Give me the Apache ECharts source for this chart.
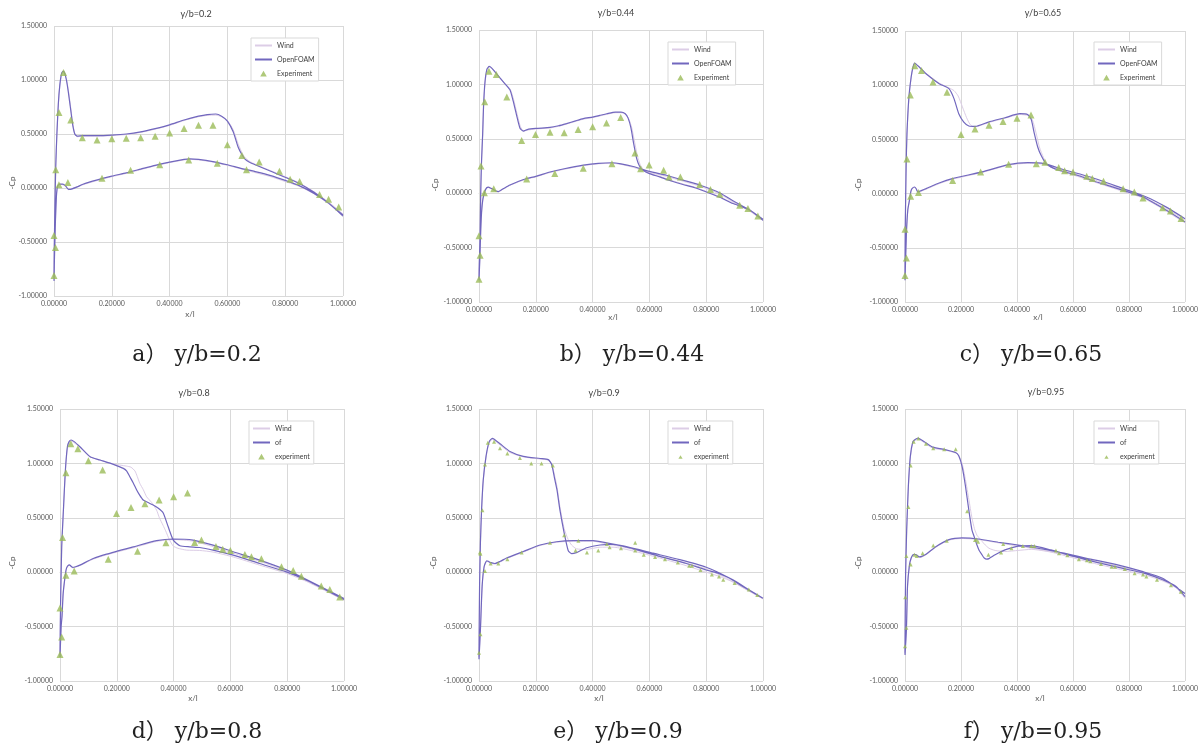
<!DOCTYPE html>
<html>
<head>
<meta charset="utf-8">
<script src="https://cdn.jsdelivr.net/npm/echarts@6/dist/echarts.min.js"></script>
<style>
  html, body { margin: 0; padding: 0; background: #fff; }
  #chart { width: 1201px; height: 745px; }
</style>
</head>
<body>
<div id="chart"></div>
<script>
// ---- data: [x/l, -Cp] pairs ----
// a) y/b=0.2
const windA = [[1.0,-0.24],[0.95,-0.13],[0.9,-0.035],[0.85,0.045],[0.8,0.105],[0.75,0.16],[0.7,0.215],[0.675,0.25],[0.66,0.285],[0.65,0.33],[0.637,0.41],[0.62,0.54],[0.6,0.625],[0.58,0.66],[0.56,0.675],[0.53,0.672],[0.5,0.66],[0.45,0.625],[0.4,0.58],[0.35,0.545],[0.3,0.515],[0.25,0.495],[0.2,0.485],[0.15,0.48],[0.1,0.48],[0.08,0.475],[0.072,0.5],[0.065,0.6],[0.058,0.74],[0.05,0.9],[0.043,1.01],[0.036,1.07],[0.031,1.075],[0.026,1.05],[0.02,0.94],[0.015,0.77],[0.01,0.5],[0.006,0.2],[0.003,-0.2],[0.001,-0.55],[0.0,-0.84],[0.002,-0.6],[0.005,-0.3],[0.009,-0.05],[0.013,0.02],[0.02,0.035],[0.03,0.03],[0.04,0.015],[0.05,-0.015],[0.06,-0.01],[0.08,0.01],[0.1,0.03],[0.15,0.07],[0.2,0.105],[0.25,0.135],[0.3,0.17],[0.35,0.205],[0.4,0.235],[0.45,0.26],[0.47,0.265],[0.5,0.26],[0.55,0.24],[0.6,0.21],[0.65,0.175],[0.7,0.14],[0.75,0.105],[0.8,0.06],[0.85,0.015],[0.9,-0.055],[0.95,-0.145],[1.0,-0.26]];
const foamA = [[1.0,-0.25],[0.95,-0.14],[0.9,-0.04],[0.85,0.04],[0.8,0.1],[0.75,0.155],[0.7,0.21],[0.675,0.24],[0.66,0.27],[0.65,0.31],[0.637,0.38],[0.62,0.52],[0.6,0.62],[0.58,0.665],[0.56,0.685],[0.53,0.68],[0.5,0.665],[0.45,0.63],[0.4,0.585],[0.35,0.55],[0.3,0.52],[0.25,0.5],[0.2,0.49],[0.15,0.485],[0.1,0.485],[0.08,0.48],[0.072,0.5],[0.065,0.58],[0.058,0.72],[0.05,0.88],[0.043,1.0],[0.036,1.07],[0.031,1.08],[0.026,1.06],[0.02,0.95],[0.015,0.78],[0.01,0.5],[0.006,0.2],[0.003,-0.2],[0.001,-0.55],[0.0,-0.86],[0.002,-0.6],[0.005,-0.3],[0.009,-0.05],[0.013,0.02],[0.02,0.035],[0.03,0.035],[0.04,0.02],[0.05,-0.012],[0.06,-0.01],[0.08,0.01],[0.1,0.035],[0.15,0.075],[0.2,0.11],[0.25,0.14],[0.3,0.175],[0.35,0.21],[0.4,0.24],[0.45,0.265],[0.47,0.27],[0.5,0.265],[0.55,0.245],[0.6,0.215],[0.65,0.18],[0.7,0.15],[0.75,0.115],[0.8,0.07],[0.85,0.02],[0.9,-0.05],[0.95,-0.14],[1.0,-0.26]];
const expA = [[0.033,1.07],[0.017,0.70],[0.058,0.63],[0.006,0.17],[0.017,0.03],[0.048,0.05],[0.0,-0.44],[0.005,-0.55],[0.0,-0.81],[0.098,0.465],[0.149,0.445],[0.2,0.455],[0.25,0.46],[0.3,0.465],[0.35,0.48],[0.4,0.51],[0.45,0.55],[0.5,0.58],[0.55,0.58],[0.6,0.40],[0.65,0.30],[0.71,0.24],[0.78,0.155],[0.817,0.08],[0.85,0.06],[0.919,-0.06],[0.95,-0.105],[0.985,-0.175],[0.166,0.09],[0.265,0.165],[0.366,0.215],[0.466,0.26],[0.565,0.23],[0.666,0.17]];

// b) y/b=0.44
const windB = [[1.0,-0.245],[0.95,-0.145],[0.894,-0.09],[0.85,-0.035],[0.812,0.005],[0.76,0.055],[0.718,0.085],[0.68,0.115],[0.636,0.155],[0.6,0.185],[0.58,0.215],[0.568,0.26],[0.558,0.34],[0.548,0.47],[0.538,0.6],[0.528,0.68],[0.517,0.725],[0.5,0.74],[0.48,0.74],[0.45,0.725],[0.425,0.71],[0.4,0.695],[0.367,0.68],[0.34,0.66],[0.308,0.635],[0.28,0.615],[0.25,0.6],[0.2,0.59],[0.17,0.58],[0.158,0.57],[0.146,0.61],[0.134,0.73],[0.122,0.86],[0.11,0.955],[0.09,1.01],[0.074,1.055],[0.055,1.115],[0.045,1.145],[0.036,1.16],[0.028,1.135],[0.021,1.01],[0.016,0.79],[0.013,0.54],[0.009,0.29],[0.006,0.0],[0.004,-0.36],[0.001,-0.64],[0.0,-0.78],[0.003,-0.59],[0.006,-0.34],[0.009,-0.17],[0.014,-0.045],[0.021,0.02],[0.027,0.048],[0.033,0.052],[0.042,0.042],[0.05,0.032],[0.06,0.017],[0.068,0.012],[0.085,0.037],[0.109,0.072],[0.14,0.105],[0.168,0.13],[0.2,0.15],[0.25,0.19],[0.3,0.22],[0.367,0.253],[0.42,0.27],[0.468,0.275],[0.5,0.265],[0.543,0.238],[0.6,0.19],[0.66,0.155],[0.718,0.11],[0.777,0.065],[0.85,-0.01],[0.894,-0.08],[0.95,-0.16],[1.0,-0.25]];
const foamB = [[1.0,-0.25],[0.95,-0.15],[0.894,-0.095],[0.85,-0.04],[0.812,0.0],[0.76,0.05],[0.718,0.08],[0.68,0.11],[0.636,0.15],[0.6,0.18],[0.578,0.21],[0.565,0.25],[0.555,0.32],[0.545,0.45],[0.535,0.6],[0.525,0.69],[0.515,0.73],[0.5,0.745],[0.48,0.745],[0.45,0.73],[0.425,0.715],[0.4,0.7],[0.367,0.685],[0.34,0.665],[0.308,0.64],[0.28,0.62],[0.25,0.605],[0.2,0.595],[0.17,0.585],[0.156,0.57],[0.144,0.6],[0.132,0.72],[0.12,0.85],[0.109,0.95],[0.09,1.01],[0.074,1.06],[0.055,1.12],[0.045,1.15],[0.036,1.165],[0.028,1.14],[0.021,1.02],[0.016,0.8],[0.013,0.55],[0.009,0.3],[0.006,0.0],[0.004,-0.37],[0.001,-0.65],[0.0,-0.8],[0.003,-0.6],[0.006,-0.35],[0.009,-0.18],[0.014,-0.05],[0.021,0.02],[0.027,0.05],[0.033,0.055],[0.042,0.045],[0.05,0.035],[0.06,0.02],[0.068,0.015],[0.085,0.04],[0.109,0.075],[0.14,0.11],[0.168,0.135],[0.2,0.155],[0.25,0.195],[0.3,0.225],[0.367,0.258],[0.42,0.275],[0.468,0.28],[0.5,0.27],[0.543,0.245],[0.6,0.2],[0.66,0.165],[0.718,0.12],[0.777,0.075],[0.85,0.0],[0.894,-0.07],[0.95,-0.15],[1.0,-0.24]];
const expB = [[0.035,1.12],[0.061,1.09],[0.02,0.84],[0.098,0.885],[0.007,0.25],[0.019,0.005],[0.052,0.04],[0.0,-0.39],[0.004,-0.57],[0.0,-0.79],[0.15,0.485],[0.199,0.54],[0.25,0.56],[0.3,0.555],[0.349,0.585],[0.4,0.61],[0.449,0.645],[0.499,0.695],[0.549,0.37],[0.569,0.225],[0.599,0.26],[0.65,0.21],[0.669,0.15],[0.709,0.15],[0.777,0.08],[0.815,0.035],[0.848,-0.01],[0.918,-0.11],[0.947,-0.14],[0.982,-0.21],[0.168,0.13],[0.267,0.18],[0.367,0.23],[0.468,0.27]];

// c) y/b=0.65
const windC = [[1.0,-0.27],[0.95,-0.19],[0.92,-0.14],[0.85,-0.04],[0.779,0.02],[0.685,0.1],[0.615,0.16],[0.545,0.215],[0.51,0.26],[0.495,0.33],[0.48,0.43],[0.468,0.56],[0.455,0.68],[0.44,0.72],[0.41,0.73],[0.357,0.695],[0.298,0.655],[0.26,0.62],[0.245,0.615],[0.232,0.64],[0.22,0.7],[0.205,0.8],[0.19,0.9],[0.175,0.95],[0.157,0.975],[0.122,1.02],[0.075,1.11],[0.05,1.17],[0.034,1.2],[0.028,1.16],[0.022,1.07],[0.014,0.88],[0.007,0.55],[0.004,0.24],[0.001,-0.3],[0.0,-0.78],[0.005,-0.36],[0.01,-0.15],[0.016,-0.06],[0.021,0.02],[0.025,0.045],[0.034,0.058],[0.04,0.04],[0.046,0.012],[0.06,0.025],[0.075,0.04],[0.122,0.092],[0.169,0.132],[0.275,0.195],[0.369,0.262],[0.439,0.28],[0.498,0.27],[0.568,0.21],[0.662,0.14],[0.779,0.035],[0.862,-0.045],[0.93,-0.135],[1.0,-0.245]];
const foamC = [[1.0,-0.262],[0.95,-0.18],[0.92,-0.133],[0.85,-0.031],[0.779,0.03],[0.685,0.107],[0.615,0.169],[0.545,0.22],[0.504,0.276],[0.486,0.353],[0.474,0.43],[0.462,0.553],[0.451,0.682],[0.439,0.728],[0.41,0.737],[0.357,0.7],[0.298,0.66],[0.251,0.62],[0.228,0.624],[0.21,0.66],[0.192,0.737],[0.175,0.876],[0.157,0.968],[0.122,1.014],[0.075,1.106],[0.05,1.17],[0.034,1.205],[0.028,1.16],[0.022,1.076],[0.014,0.891],[0.007,0.553],[0.004,0.245],[0.001,-0.31],[0.0,-0.8],[0.005,-0.37],[0.01,-0.15],[0.016,-0.06],[0.021,0.02],[0.025,0.046],[0.034,0.061],[0.04,0.045],[0.046,0.015],[0.06,0.03],[0.075,0.046],[0.122,0.098],[0.169,0.138],[0.275,0.2],[0.369,0.267],[0.439,0.285],[0.498,0.276],[0.568,0.22],[0.662,0.153],[0.779,0.046],[0.862,-0.031],[0.93,-0.12],[1.0,-0.231]];
const expC = [[0.035,1.18],[0.059,1.135],[0.1,1.03],[0.15,0.935],[0.019,0.91],[0.007,0.32],[0.02,-0.025],[0.048,0.01],[0.0,-0.33],[0.005,-0.595],[0.0,-0.755],[0.2,0.545],[0.25,0.595],[0.3,0.63],[0.35,0.665],[0.4,0.695],[0.45,0.725],[0.17,0.12],[0.27,0.2],[0.37,0.27],[0.469,0.275],[0.5,0.29],[0.549,0.24],[0.57,0.21],[0.6,0.2],[0.649,0.16],[0.669,0.14],[0.709,0.115],[0.779,0.045],[0.819,0.015],[0.85,-0.04],[0.92,-0.13],[0.948,-0.16],[0.986,-0.23]];

// d) y/b=0.8
const windD = [[1.0,-0.26],[0.938,-0.175],[0.868,-0.085],[0.797,-0.01],[0.703,0.065],[0.61,0.14],[0.539,0.185],[0.492,0.2],[0.446,0.203],[0.415,0.22],[0.399,0.24],[0.385,0.3],[0.372,0.38],[0.363,0.43],[0.35,0.5],[0.34,0.571],[0.323,0.64],[0.305,0.693],[0.293,0.76],[0.281,0.816],[0.272,0.88],[0.264,0.93],[0.25,0.965],[0.234,0.975],[0.188,0.995],[0.141,1.03],[0.106,1.06],[0.07,1.15],[0.05,1.19],[0.039,1.205],[0.032,1.19],[0.026,1.14],[0.019,0.93],[0.012,0.56],[0.006,0.23],[0.002,-0.28],[0.0,-0.76],[0.004,-0.49],[0.007,-0.4],[0.011,-0.2],[0.015,-0.1],[0.02,0.0],[0.023,0.035],[0.028,0.057],[0.033,0.063],[0.039,0.05],[0.045,0.04],[0.055,0.047],[0.07,0.062],[0.117,0.12],[0.164,0.16],[0.258,0.225],[0.34,0.283],[0.399,0.3],[0.469,0.285],[0.539,0.235],[0.61,0.175],[0.703,0.1],[0.797,0.01],[0.868,-0.08],[0.938,-0.17],[1.0,-0.25]];
const foamD = [[1.0,-0.251],[0.938,-0.165],[0.868,-0.073],[0.797,0.003],[0.703,0.08],[0.61,0.157],[0.539,0.203],[0.492,0.227],[0.457,0.233],[0.422,0.243],[0.399,0.295],[0.381,0.417],[0.363,0.546],[0.345,0.59],[0.328,0.617],[0.31,0.64],[0.293,0.663],[0.28,0.71],[0.27,0.755],[0.258,0.82],[0.246,0.877],[0.235,0.93],[0.223,0.954],[0.188,0.991],[0.141,1.031],[0.106,1.061],[0.07,1.153],[0.05,1.2],[0.039,1.215],[0.032,1.2],[0.026,1.153],[0.019,0.939],[0.012,0.571],[0.006,0.233],[0.002,-0.288],[0.0,-0.78],[0.004,-0.5],[0.007,-0.41],[0.011,-0.2],[0.015,-0.1],[0.02,0.0],[0.023,0.037],[0.028,0.06],[0.033,0.068],[0.039,0.055],[0.045,0.043],[0.055,0.05],[0.07,0.065],[0.117,0.126],[0.164,0.166],[0.258,0.233],[0.34,0.29],[0.399,0.305],[0.469,0.295],[0.539,0.249],[0.61,0.188],[0.703,0.111],[0.797,0.021],[0.868,-0.067],[0.938,-0.16],[1.0,-0.242]];
const expD = [[0.038,1.18],[0.063,1.135],[0.1,1.025],[0.15,0.94],[0.021,0.915],[0.009,0.32],[0.021,-0.027],[0.05,0.01],[0.0,-0.33],[0.006,-0.595],[0.0,-0.757],[0.199,0.54],[0.25,0.595],[0.299,0.63],[0.349,0.663],[0.4,0.693],[0.449,0.727],[0.17,0.12],[0.273,0.193],[0.373,0.27],[0.474,0.273],[0.498,0.295],[0.549,0.236],[0.573,0.212],[0.6,0.2],[0.651,0.163],[0.674,0.141],[0.709,0.123],[0.78,0.049],[0.821,0.016],[0.85,-0.037],[0.92,-0.126],[0.95,-0.159],[0.985,-0.227]];

// e) y/b=0.9
const windE = [[1.0,-0.245],[0.953,-0.175],[0.894,-0.09],[0.848,-0.04],[0.8,0.0],[0.73,0.06],[0.637,0.13],[0.543,0.195],[0.472,0.23],[0.426,0.23],[0.379,0.21],[0.343,0.215],[0.326,0.25],[0.314,0.3],[0.3,0.4],[0.285,0.6],[0.275,0.78],[0.267,0.88],[0.256,0.99],[0.244,1.03],[0.215,1.04],[0.156,1.06],[0.109,1.1],[0.074,1.17],[0.047,1.22],[0.036,1.19],[0.025,1.06],[0.015,0.84],[0.009,0.56],[0.005,0.26],[0.002,-0.13],[0.0,-0.78],[0.005,-0.52],[0.011,-0.13],[0.018,0.05],[0.027,0.1],[0.033,0.095],[0.039,0.085],[0.056,0.075],[0.075,0.095],[0.097,0.125],[0.156,0.185],[0.215,0.245],[0.273,0.275],[0.332,0.285],[0.402,0.285],[0.449,0.26],[0.519,0.225],[0.613,0.16],[0.707,0.1],[0.8,0.03],[0.871,-0.055],[0.941,-0.16],[1.0,-0.245]];
const foamE = [[1.0,-0.24],[0.953,-0.165],[0.894,-0.07],[0.848,-0.015],[0.8,0.02],[0.73,0.08],[0.637,0.145],[0.543,0.215],[0.472,0.255],[0.426,0.25],[0.379,0.225],[0.343,0.18],[0.326,0.17],[0.314,0.2],[0.3,0.36],[0.285,0.57],[0.275,0.75],[0.267,0.85],[0.256,0.99],[0.244,1.035],[0.215,1.045],[0.156,1.065],[0.109,1.11],[0.074,1.18],[0.047,1.23],[0.036,1.2],[0.025,1.07],[0.015,0.85],[0.009,0.57],[0.005,0.27],[0.002,-0.13],[0.0,-0.8],[0.005,-0.53],[0.011,-0.13],[0.018,0.05],[0.027,0.105],[0.033,0.1],[0.039,0.09],[0.056,0.08],[0.075,0.1],[0.097,0.13],[0.156,0.19],[0.215,0.25],[0.273,0.28],[0.332,0.29],[0.402,0.29],[0.449,0.27],[0.519,0.235],[0.613,0.175],[0.707,0.115],[0.8,0.045],[0.871,-0.04],[0.941,-0.15],[1.0,-0.24]];
const expE = [[0.0,-0.74],[0.005,-0.57],[0.003,0.18],[0.005,0.17],[0.012,0.57],[0.021,0.99],[0.031,1.19],[0.053,1.2],[0.074,1.14],[0.1,1.09],[0.144,1.05],[0.184,1.0],[0.22,1.0],[0.26,0.98],[0.3,0.34],[0.34,0.2],[0.38,0.18],[0.42,0.2],[0.46,0.23],[0.5,0.22],[0.55,0.2],[0.58,0.16],[0.62,0.14],[0.655,0.12],[0.7,0.09],[0.74,0.06],[0.75,0.06],[0.78,0.02],[0.82,-0.02],[0.845,-0.04],[0.86,-0.07],[0.9,-0.1],[0.95,-0.16],[0.98,-0.21],[0.021,0.01],[0.041,0.08],[0.068,0.08],[0.1,0.12],[0.15,0.18],[0.25,0.27],[0.35,0.29],[0.45,0.26],[0.55,0.27]];

// f) y/b=0.95
const windF = [[1.0,-0.24],[0.967,-0.14],[0.92,-0.08],[0.862,-0.03],[0.779,0.02],[0.685,0.075],[0.603,0.13],[0.521,0.185],[0.451,0.21],[0.404,0.2],[0.357,0.19],[0.322,0.2],[0.3,0.22],[0.283,0.26],[0.27,0.3],[0.257,0.34],[0.248,0.4],[0.239,0.5],[0.228,0.67],[0.216,0.85],[0.204,1.0],[0.192,1.07],[0.181,1.095],[0.146,1.12],[0.099,1.14],[0.069,1.19],[0.046,1.225],[0.036,1.21],[0.028,1.19],[0.019,1.05],[0.012,0.78],[0.006,0.38],[0.002,-0.04],[0.0,-0.74],[0.005,-0.52],[0.009,-0.13],[0.016,0.065],[0.022,0.125],[0.028,0.155],[0.034,0.16],[0.04,0.155],[0.052,0.135],[0.06,0.14],[0.075,0.16],[0.11,0.23],[0.157,0.295],[0.204,0.31],[0.263,0.3],[0.333,0.27],[0.404,0.24],[0.474,0.21],[0.568,0.165],[0.662,0.11],[0.756,0.06],[0.85,-0.005],[0.92,-0.065],[1.0,-0.2]];
const foamF = [[1.0,-0.225],[0.967,-0.13],[0.92,-0.07],[0.862,-0.015],[0.779,0.035],[0.685,0.09],[0.603,0.145],[0.521,0.205],[0.451,0.245],[0.404,0.24],[0.357,0.205],[0.322,0.16],[0.3,0.125],[0.292,0.12],[0.283,0.13],[0.275,0.16],[0.265,0.2],[0.257,0.25],[0.248,0.32],[0.239,0.39],[0.228,0.57],[0.216,0.79],[0.204,0.97],[0.192,1.07],[0.181,1.1],[0.146,1.125],[0.099,1.15],[0.069,1.2],[0.046,1.233],[0.036,1.22],[0.028,1.2],[0.019,1.065],[0.012,0.79],[0.006,0.39],[0.002,-0.04],[0.0,-0.76],[0.005,-0.53],[0.009,-0.13],[0.016,0.07],[0.022,0.13],[0.028,0.16],[0.034,0.165],[0.04,0.16],[0.052,0.14],[0.06,0.145],[0.075,0.165],[0.11,0.235],[0.157,0.3],[0.204,0.315],[0.263,0.305],[0.333,0.275],[0.404,0.25],[0.474,0.22],[0.568,0.175],[0.662,0.12],[0.756,0.07],[0.85,0.005],[0.92,-0.055],[1.0,-0.195]];
const expF = [[0.0,-0.68],[0.005,-0.51],[0.001,-0.23],[0.005,0.15],[0.012,0.6],[0.02,0.98],[0.031,1.2],[0.048,1.23],[0.075,1.18],[0.101,1.14],[0.14,1.13],[0.181,1.13],[0.222,0.56],[0.255,0.3],[0.261,0.28],[0.298,0.16],[0.343,0.18],[0.38,0.22],[0.421,0.24],[0.451,0.24],[0.462,0.24],[0.351,0.26],[0.539,0.2],[0.55,0.175],[0.58,0.155],[0.621,0.12],[0.65,0.11],[0.662,0.1],[0.7,0.075],[0.738,0.05],[0.75,0.05],[0.785,0.03],[0.82,-0.01],[0.85,-0.02],[0.862,-0.04],[0.9,-0.07],[0.95,-0.12],[0.985,-0.18],[0.02,0.07],[0.034,0.16],[0.042,0.15],[0.063,0.175],[0.101,0.245],[0.149,0.29],[0.25,0.295]];

const panelTitles = ['y/b=0.2', 'y/b=0.44', 'y/b=0.65', 'y/b=0.8', 'y/b=0.9', 'y/b=0.95'];
const captions = ['a） y/b=0.2', 'b） y/b=0.44', 'c） y/b=0.65', 'd） y/b=0.8', 'e） y/b=0.9', 'f） y/b=0.95'];
const legendNames = [
  ['Wind', 'OpenFOAM', 'Experiment'], ['Wind', 'OpenFOAM', 'Experiment'], ['Wind', 'OpenFOAM', 'Experiment'],
  ['Wind', 'of', 'experiment'], ['Wind', 'of', 'experiment'], ['Wind', 'of', 'experiment']
];
const xTicks = [0, 0.2, 0.4, 0.6, 0.8, 1.0];
const yTicks = [-1.0, -0.5, 0, 0.5, 1.0, 1.5];

const windData = [windA, windB, windC, windD, windE, windF];
const foamData = [foamA, foamB, foamC, foamD, foamE, foamF];
const expData = [expA, expB, expC, expD, expE, expF];

// ---- layout (pixels) ----
const boxes = [
  { l: 54,  t: 26,  w: 289, h: 270, title: [196, 14],  xl: [190, 314], cp: [12, 183],  cap: [197, 355], lg: [251, 38] },
  { l: 479, t: 30,  w: 284, h: 272, title: [616, 13],  xl: [613, 317], cp: [435, 185], cap: [632, 355], lg: [668, 42] },
  { l: 905, t: 31,  w: 284, h: 271, title: [1043, 13], xl: [1038, 317], cp: [858, 185], cap: [1031, 355], lg: [1094, 42] },
  { l: 60,  t: 409, w: 284, h: 272, title: [194, 393], xl: [193, 698], cp: [12, 563],  cap: [197, 732], lg: [249, 421] },
  { l: 479, t: 409, w: 284, h: 272, title: [604, 393], xl: [599, 698], cp: [433, 563], cap: [618, 732], lg: [668, 421] },
  { l: 905, t: 409, w: 284, h: 272, title: [1046, 392], xl: [1040, 698], cp: [858, 563], cap: [1033, 732], lg: [1094, 421] }
];

const FONT = 'Lato, "Liberation Sans", sans-serif';
const GRID_COLOR = '#D9D9D9';
const LABEL_COLOR = '#595959';
const WIND_COLOR = '#DCCDE6';
const FOAM_COLOR = '#7167BE';
const EXP_COLOR = '#9BBB59';

// legend triangle: invisible corner specks keep the 17x7 box, so the triangle is not stretched
const TRI_BIG = 'path://M0,0L0.01,0L0.01,0.01Z M17,7L16.99,7L16.99,6.99Z M8.5,0.8L11.8,6.6L5.2,6.6Z';
const TRI_SMALL = 'path://M0,0L0.01,0L0.01,0.01Z M17,7L16.99,7L16.99,6.99Z M8.5,2.2L10.6,5.8L6.4,5.8Z';

const fmt = v => v.toFixed(5);

const grid = [], xAxis = [], yAxis = [], series = [], legend = [], graphic = [];

boxes.forEach((b, i) => {
  grid.push({ left: b.l, top: b.t, width: b.w, height: b.h, containLabel: false });

  xAxis.push({
    gridIndex: i, type: 'value',
    min: xTicks[0], max: xTicks[xTicks.length - 1], interval: xTicks[1] - xTicks[0],
    axisLine: { onZero: true, lineStyle: { color: GRID_COLOR, width: 1 } },
    axisTick: { show: false },
    axisLabel: { formatter: fmt, fontSize: 7, color: LABEL_COLOR, fontFamily: FONT, margin: 4 },
    splitLine: { show: true, lineStyle: { color: GRID_COLOR, width: 1 } }
  });
  yAxis.push({
    gridIndex: i, type: 'value',
    min: yTicks[0], max: yTicks[yTicks.length - 1], interval: yTicks[1] - yTicks[0],
    axisLine: { show: false },
    axisTick: { show: false },
    axisLabel: { formatter: fmt, fontSize: 7, color: LABEL_COLOR, fontFamily: FONT, margin: 7 },
    splitLine: { show: true, lineStyle: { color: GRID_COLOR, width: 1 } }
  });

  const names = legendNames[i];
  const small = i >= 4;
  series.push({
    type: 'line', name: names[0], xAxisIndex: i, yAxisIndex: i,
    data: windData[i], symbol: 'none', smooth: 0.2, z: 2,
    lineStyle: { color: WIND_COLOR, width: 1 }, itemStyle: { color: WIND_COLOR }
  });
  series.push({
    type: 'line', name: names[1], xAxisIndex: i, yAxisIndex: i,
    data: foamData[i], symbol: 'none', smooth: 0.2, z: 3,
    lineStyle: { color: FOAM_COLOR, width: 1.2 }, itemStyle: { color: FOAM_COLOR }
  });
  series.push({
    type: 'scatter', name: names[2], xAxisIndex: i, yAxisIndex: i,
    data: expData[i], symbol: 'triangle', symbolSize: small ? 4 : 7, z: 4,
    itemStyle: { color: EXP_COLOR }
  });

  legend.push({
    left: b.lg[0], top: b.lg[1], orient: 'vertical',
    data: [
      { name: names[0], itemStyle: { opacity: 0 } },
      { name: names[1], itemStyle: { opacity: 0 } },
      { name: names[2], icon: small ? TRI_SMALL : TRI_BIG, itemStyle: { color: EXP_COLOR } }
    ],
    symbolKeepAspect: false,
    padding: [4, 4, 4, 3], itemWidth: 17, itemHeight: 7, itemGap: 7,
    borderColor: GRID_COLOR, borderWidth: 1, backgroundColor: '#fff',
    textStyle: { fontSize: 7, color: '#404040', fontFamily: FONT }
  });

  graphic.push({
    type: 'text', x: b.title[0], y: b.title[1],
    style: { text: panelTitles[i], font: '9px ' + FONT, fill: '#404040', textAlign: 'center', textVerticalAlign: 'middle' }
  });
  graphic.push({
    type: 'text', x: b.xl[0], y: b.xl[1],
    style: { text: 'x/l', font: '8px ' + FONT, fill: LABEL_COLOR, textAlign: 'center', textVerticalAlign: 'middle' }
  });
  graphic.push({
    type: 'text', x: b.cp[0], y: b.cp[1], rotation: Math.PI / 2,
    style: { text: '-Cp', font: '8px ' + FONT, fill: LABEL_COLOR, textAlign: 'center', textVerticalAlign: 'middle' }
  });
  graphic.push({
    type: 'text', x: b.cap[0], y: b.cap[1],
    style: { text: captions[i], font: '22px "DejaVu Serif", "Noto Sans CJK KR", serif', fill: '#222', textAlign: 'center', textVerticalAlign: 'middle' }
  });
});

const chart = echarts.init(document.getElementById('chart'));
chart.setOption({
  animation: false,
  backgroundColor: '#fff',
  grid, xAxis, yAxis, series, legend, graphic
});
</script>
</body>
</html>
